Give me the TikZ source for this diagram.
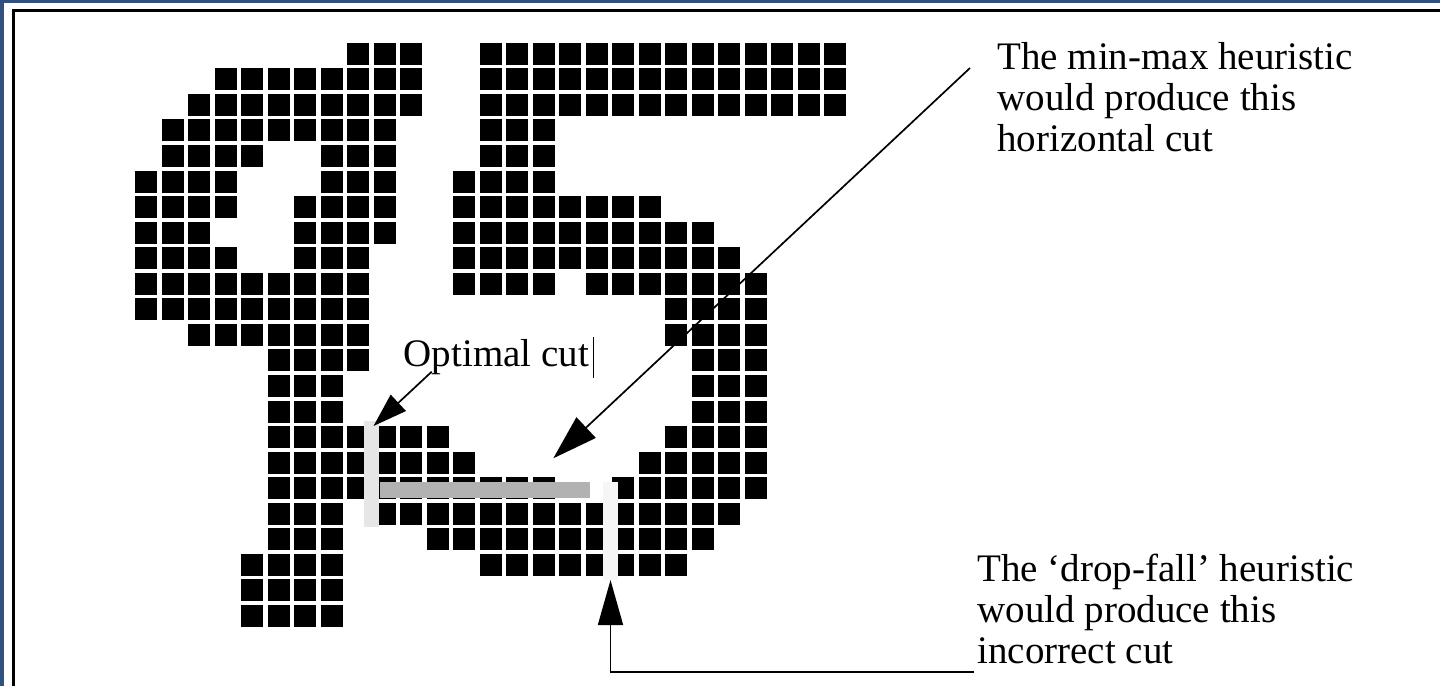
\documentclass[tikz,border=0pt]{standalone}
\usepackage{fontspec}
\setmainfont{Liberation Serif}
\usepackage{tikz}
\usetikzlibrary{arrows.meta}

\definecolor{bandblue}{RGB}{50,80,124}
\definecolor{cutgray}{RGB}{178,178,178}
\definecolor{optgray}{RGB}{230,230,230}
\definecolor{dropgray}{RGB}{246,246,246}

\begin{document}
\begin{tikzpicture}[x=0.5pt, y=-0.5pt,
    pixel/.style={fill=black},
    cutbar/.style={draw=none, inner sep=0pt, outer sep=0pt},
    note/.style={font=\fontsize{19.5}{20.5}\selectfont, inner sep=0pt, align=left},
    pointer/.style={line width=0.85pt}]
  \useasboundingbox (0,0) rectangle (1440,686);

  % frame
  \fill[bandblue] (0,0) rectangle (1440,2.5);
  \fill[bandblue] (0,0) rectangle (4,686);
  \draw[line width=1.25pt] (13.3,686) -- (13.3,10.5) -- (1440,10.5);

  % bitmap of the touching digits, row/first column/last column
  \foreach \r/\a/\b in {0/8/10, 0/13/26, 1/3/10, 1/13/26, 2/2/10, 2/13/26,
      3/1/9, 3/13/15, 4/1/4, 4/7/9, 4/13/15, 5/0/3, 5/7/9, 5/12/15,
      6/0/3, 6/6/9, 6/12/19, 7/0/2, 7/6/9, 7/12/21, 8/0/3, 8/6/8, 8/12/22,
      9/0/8, 9/12/15, 9/17/23, 10/0/8, 10/20/23, 11/2/8, 11/20/23,
      12/5/8, 12/21/23, 13/5/7, 13/21/23, 14/5/7, 14/21/23,
      15/5/11, 15/20/23, 16/5/12, 16/19/23, 17/5/15, 17/18/23,
      18/5/7, 18/9/22, 19/5/7, 19/11/21, 20/4/7, 20/13/20,
      21/4/7, 22/4/7}
    \foreach \c in {\a,...,\b}
      \fill[pixel] (135+26.5*\c, 42.7+25.56*\r) rectangle ++(22,22);

  % the three cuts
  \node[cutbar, fill=cutgray, minimum width=105pt, minimum height=8pt] (mmbar) at (485,490) {};
  \node[cutbar, fill=optgray, minimum width=7.5pt, minimum height=53pt] (optbar) at (371.5,474) {};
  \node[cutbar, fill=dropgray, minimum width=7.5pt, minimum height=49pt] (dfbar) at (610.5,531) {};

  % labels
  \node[note, anchor=base west] (optlabel) at (403.3,366.7) {Optimal cut};
  \draw[line width=0.75pt] (593.3,337) -- (593.3,378);
  \node[note, anchor=north west] (mmtext) at (997,41.8)
    {The min-max heuristic\\would produce this\\horizontal cut};
  \node[note, anchor=north west] (dftext) at (977,553.4)
    {The ‘drop-fall’ heuristic\\would produce this\\incorrect cut};

  % pointers
  \coordinate (optfrom) at (431.7,371.7);
  \coordinate (mmfrom) at (970,68);
  \coordinate (mmto) at (553.3,458.3);
  \coordinate (dffrom) at (974,672);
  \draw[pointer, -{Triangle[length=17pt, width=11pt]}] (optfrom) -- ([xshift=1pt, yshift=-2.5pt]optbar.north);
  \draw[pointer, -{Triangle[length=22.5pt, width=14pt]}] (mmfrom) -- (mmto);
  \draw[pointer, -{Triangle[length=22.5pt, width=12.5pt]}] (dffrom) -| (dfbar.south);
\end{tikzpicture}
\end{document}
